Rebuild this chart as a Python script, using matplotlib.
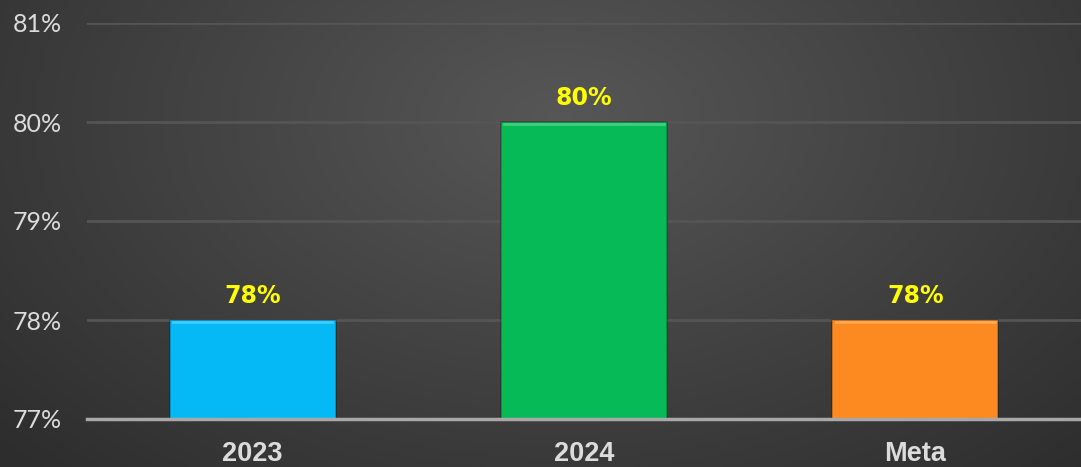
import matplotlib.pyplot as plt
import numpy as np

categorias = ['2023', '2024', 'Meta']
valores = [78, 80, 78]
cores = ['#05b9f6', '#06bb57', '#fd8a21']
rotulos = ['78%', '80%', '78%']
ticks_y = [77, 78, 79, 80, 81]

fig = plt.figure(figsize=(10.81, 4.67), dpi=100)

# fundo com gradiente radial
bg = fig.add_axes([0, 0, 1, 1])
yy, xx = np.mgrid[0:467, 0:1081]
d = np.sqrt(((xx - 560) / 700.0) ** 2 + ((yy - 120) / 450.0) ** 2)
g = np.clip(0.34 - 0.15 * d, 0.18, 0.34)
bg.imshow(np.dstack([g, g, g]), aspect='auto', extent=[0, 1, 0, 1])
bg.axis('off')

ax = fig.add_axes([87 / 1081, 1 - 419 / 467, 1 - 87 / 1081, (419 - 23) / 467])
ax.patch.set_alpha(0)
x = np.arange(len(categorias))
barras = ax.bar(x, [v - 77 for v in valores], bottom=77, width=0.5, color=cores,
                edgecolor='#00000040', linewidth=1.2, zorder=3)
# leve brilho no topo (efeito bisel)
for b in barras:
    ax.plot([b.get_x() + 0.01, b.get_x() + b.get_width() - 0.01],
            [b.get_y() + b.get_height() - 0.02] * 2, color='white', alpha=0.25, lw=2, zorder=4)

for xi, v, r in zip(x, valores, rotulos):
    ax.text(xi, v + 0.12, r, ha='center', va='bottom', color='#ffff00',
            fontsize=17, fontweight='bold', zorder=5)

ax.set_xlim(-0.5, 2.5)
ax.set_ylim(77, 81)
ax.set_yticks(ticks_y)
ax.set_yticklabels([f'{t}%' for t in ticks_y], color='#dcdcdc', fontsize=18,
                   family='Lato')
ax.set_xticks(x)
ax.set_xticklabels(categorias, color='#dcdcdc', fontsize=19.5, fontweight='bold',
                   family='Liberation Sans')
ax.tick_params(axis='both', length=0)
ax.tick_params(axis='y', pad=18)
ax.tick_params(axis='x', pad=16)
ax.grid(axis='y', color='#555555', lw=2, zorder=0)
for s in ['top', 'right', 'left']:
    ax.spines[s].set_visible(False)
ax.spines['bottom'].set_color('#a8a8a8')
ax.spines['bottom'].set_linewidth(2.5)
ax.spines['bottom'].set_zorder(6)

fig.savefig('out.png', dpi=100)
